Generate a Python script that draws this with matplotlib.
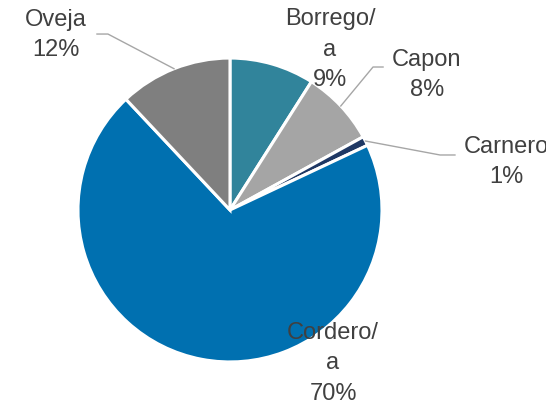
import matplotlib
matplotlib.use("Agg")
import matplotlib.pyplot as plt
import numpy as np

categories = ["Borrego/\na", "Capon", "Carnero", "Cordero/\na", "Oveja"]
values = [9, 8, 1, 70, 12]
pct_labels = ["9%", "8%", "1%", "70%", "12%"]
colors = ["#31849B", "#A5A5A5", "#1F3864", "#0070B0", "#7F7F7F"]

plt.rcParams['font.family'] = ['Liberation Sans', 'DejaVu Sans']

fig = plt.figure(figsize=(5.46, 4.01), dpi=100)
ax = fig.add_axes([0, 0, 1, 1])

wedges, _ = ax.pie(values, colors=colors, startangle=90, counterclock=False,
                   radius=1.0, wedgeprops=dict(edgecolor='white', linewidth=2.2))
ax.set_aspect('equal', adjustable='datalim')
ax.set_xlim(-1.513, 2.079)
ax.set_ylim(-1.257, 1.382)
ax.axis('off')

text_pos = {
    "Borrego/\na": (0.658, 1.053),
    "Capon": (1.296, 0.888),
    "Carnero": (1.816, 0.316),
    "Cordero/\na": (0.678, -1.007),
    "Oveja": (-1.145, 1.151),
}
leaders = {
    "Oveja": [(-0.803, 1.158), (-0.875, 1.158)],
    "Capon": [(0.941, 0.941), (1.007, 0.941)],
    "Carnero": [(1.382, 0.362), (1.480, 0.362)],
}

for w, cat, pl in zip(wedges, categories, pct_labels):
    x, y = text_pos[cat]
    ax.text(x, y, f"{cat}\n{pl}", ha='center', va='center', fontsize=17,
            color='#404040', linespacing=1.5)
    if cat in leaders:
        mid = np.deg2rad((w.theta1 + w.theta2) / 2)
        start = (np.cos(mid), np.sin(mid))
        pts = [start] + leaders[cat]
        xs, ys = zip(*pts)
        ax.plot(xs, ys, color='#A6A6A6', linewidth=1.0)

fig.savefig("out.png", dpi=100)
